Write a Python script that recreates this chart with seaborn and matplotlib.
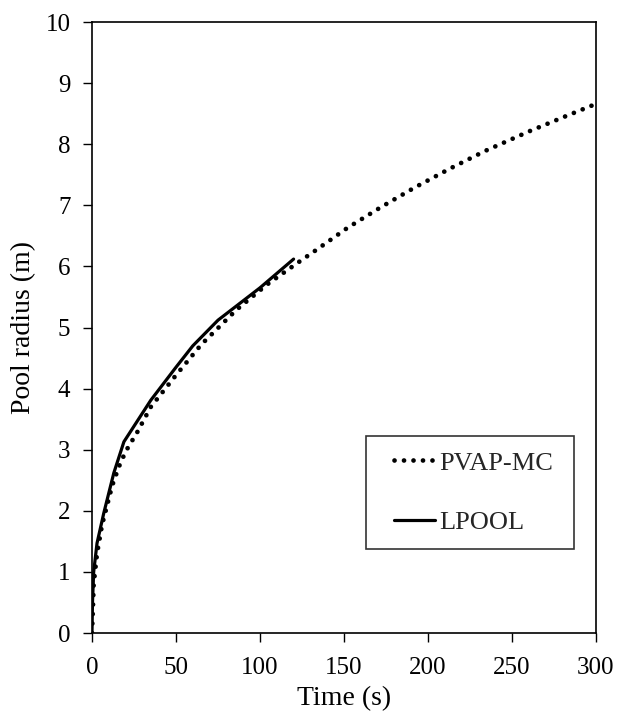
import matplotlib
matplotlib.use("Agg")
import matplotlib.pyplot as plt
from matplotlib.lines import Line2D
from matplotlib.legend_handler import HandlerLine2D
import seaborn as sns
import pandas as pd

# PVAP-MC series
pvap_t = [0, 0.5, 1, 3, 6, 9, 12, 16, 20, 27, 35, 50, 65, 86, 104, 123, 133, 152, 172, 192, 213, 234, 261, 283, 300]
pvap_r = [0, 0.35, 0.8, 1.3, 1.77, 2.09, 2.41, 2.72, 2.97, 3.29, 3.70, 4.22, 4.72, 5.29, 5.70, 6.07, 6.26, 6.63, 6.97, 7.29, 7.6, 7.89, 8.22, 8.47, 8.66]

# LPOOL series
lpool_t = [0, 0.3, 1, 3, 7, 13, 19, 35, 50, 60, 75, 100, 120]
lpool_r = [0, 0.5, 1.0, 1.47, 1.96, 2.62, 3.13, 3.81, 4.35, 4.7, 5.12, 5.65, 6.12]

x_ticks = [0, 50, 100, 150, 200, 250, 300]
y_ticks = list(range(0, 11))

sns.set_theme(style="ticks")
plt.rcParams['font.family'] = ['Liberation Serif', 'DejaVu Serif']

fig = plt.figure(figsize=(6.19, 7.2), dpi=100)
ax = fig.add_axes([0.1486, 0.1208, 0.8142, 0.8486])

df_p = pd.DataFrame({"t": pvap_t, "r": pvap_r})
df_l = pd.DataFrame({"t": lpool_t, "r": lpool_r})

sns.lineplot(data=df_p, x="t", y="r", ax=ax, color="black", lw=3.4,
             linestyle=(0, (0.01, 2.0)), dash_capstyle="round",
             sort=False, estimator=None, label="PVAP-MC")
sns.lineplot(data=df_l, x="t", y="r", ax=ax, color="black", lw=2.3,
             sort=False, estimator=None, label="LPOOL")

ax.set_xlim(0, 300)
ax.set_ylim(0, 10)
ax.set_xticks(x_ticks)
ax.set_yticks(y_ticks)
ax.tick_params(axis="both", direction="out", length=6.5, width=1, colors="black",
               labelsize=18)
ax.tick_params(axis="y", pad=9)
ax.tick_params(axis="x", pad=11)
for s in ax.spines.values():
    s.set_color("black")
    s.set_linewidth(1.2)
ax.set_xlabel("Time (s)", fontsize=20, color="black", labelpad=5)
ax.set_ylabel("Pool radius (m)", fontsize=20, color="black", labelpad=7)

leg = ax.legend(loc="center left", bbox_to_anchor=(0.544, 0.1375, 0.413, 0.185),
                mode="expand", frameon=True, fancybox=False, fontsize=19,
                handlelength=2.05, handletextpad=0.15, labelspacing=1.35,
                borderpad=0.57, borderaxespad=0,
                handler_map={Line2D: HandlerLine2D(xpad=0.5)})
leg.get_frame().set_edgecolor("black")
leg.get_frame().set_linewidth(1.2)

fig.savefig("out.png", dpi=100)
